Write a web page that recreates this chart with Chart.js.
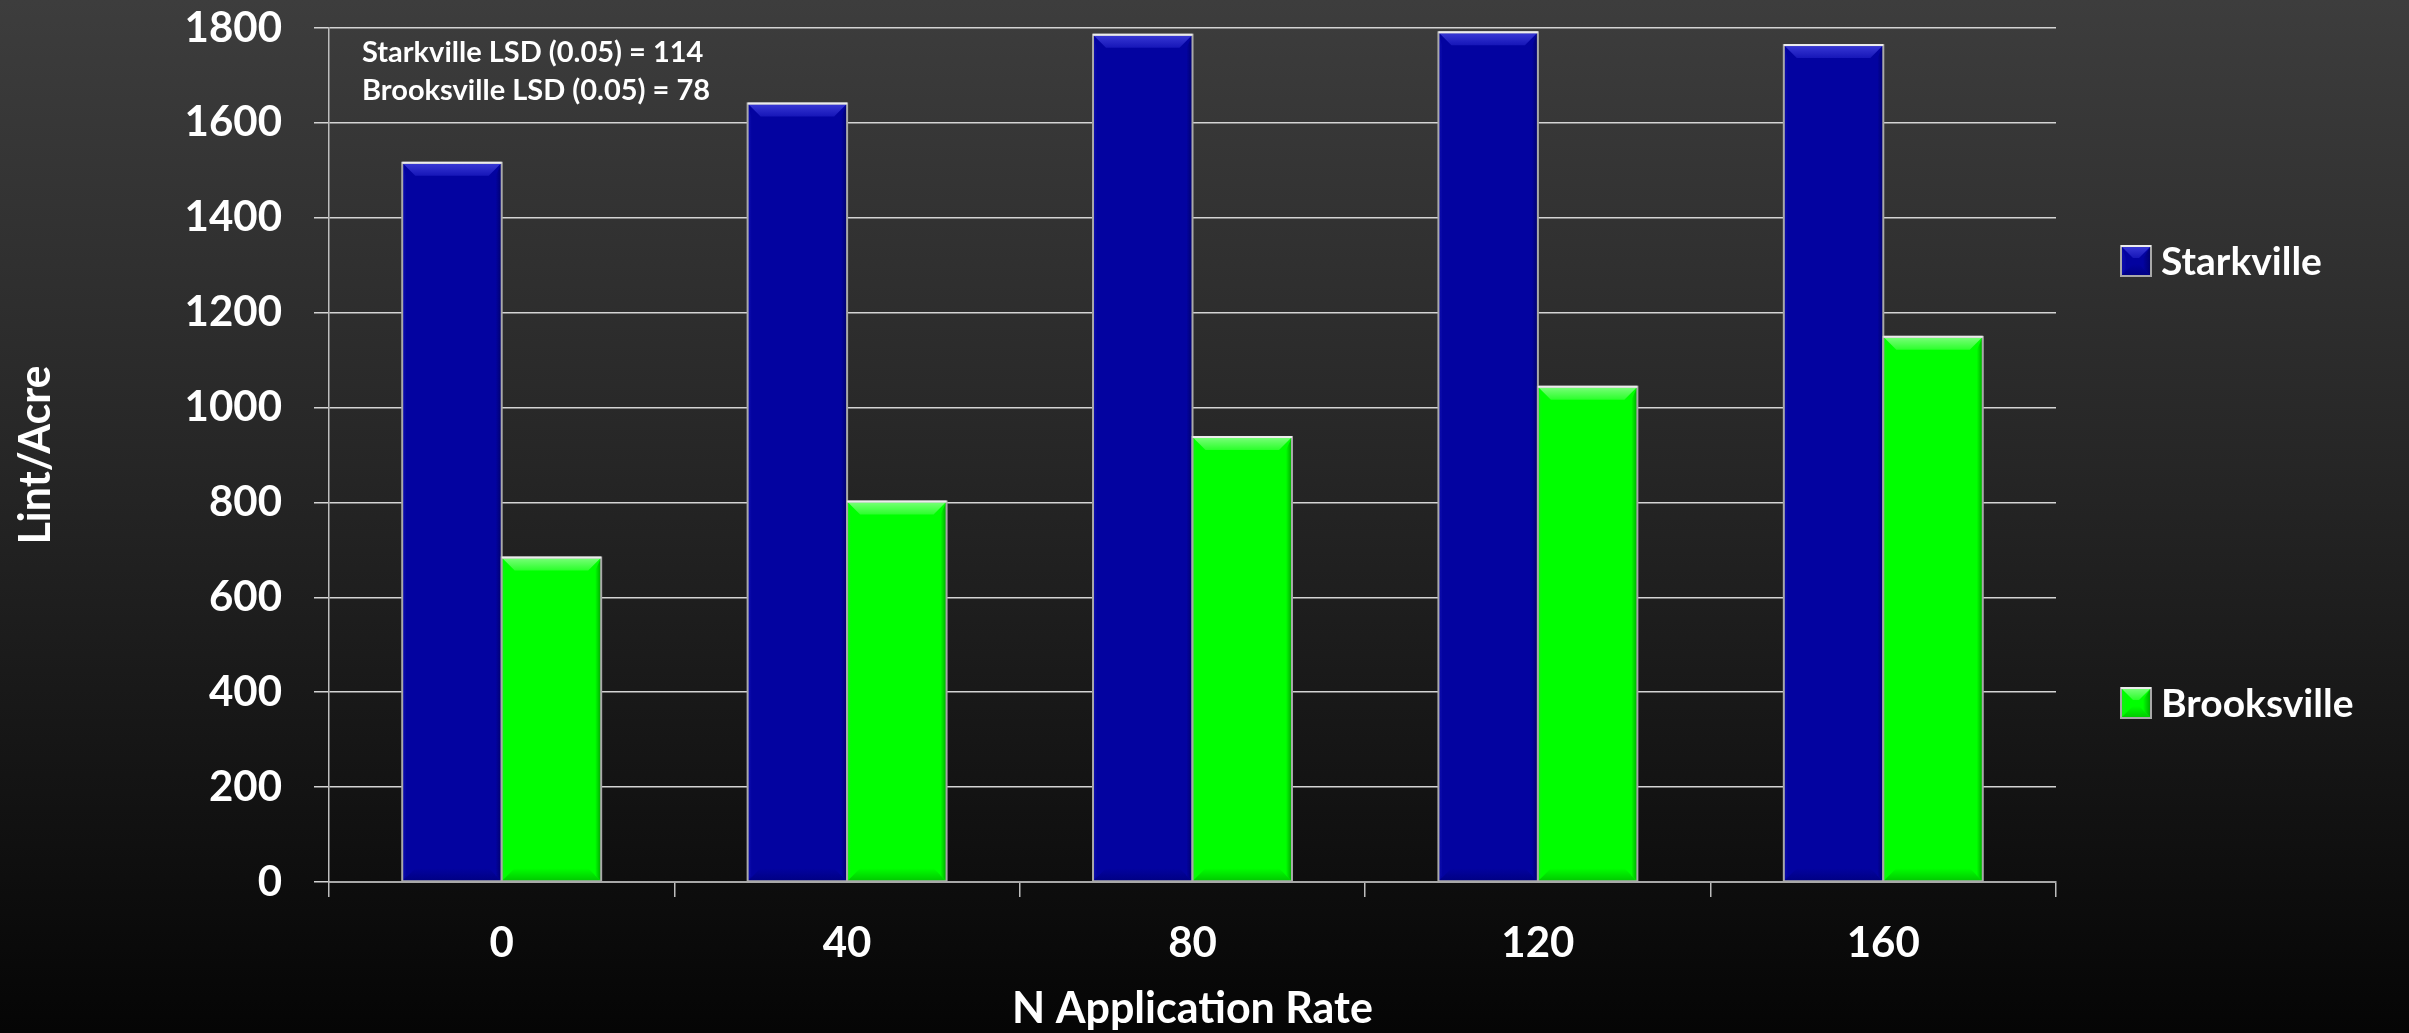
<!DOCTYPE html>
<html>
<head>
<meta charset="utf-8">
<title>Lint/Acre by N Application Rate</title>
<script src="https://cdn.jsdelivr.net/npm/chart.js@4.4.1/dist/chart.umd.min.js"></script>
<style>
  html, body { margin: 0; padding: 0; overflow: hidden; }
  body {
    width: 2409px; height: 1033px;
    background: linear-gradient(to bottom, #3d3d3d 0%, #262626 45%, #141414 75%, #050505 100%);
  }
  canvas { display: block; }
</style>
</head>
<body>
<canvas id="chart" width="2409" height="1033"></canvas>
<script>
// N application rates (x categories)
const categories = ['0', '40', '80', '120', '160'];
// Lint yield per acre at each site
const starkville = [1516, 1641, 1786, 1791, 1764];
const brooksville = [684, 802, 938, 1044, 1149];
// Series names
const seriesNames = ['Starkville', 'Brooksville'];
// Notes printed in the plot corner
const lsdNotes = ['Starkville LSD (0.05) = 114', 'Brooksville LSD (0.05) = 78'];
// Value axis
const yMin = 0, yMax = 1800, yStep = 200;

const FONT = 'Lato, "Open Sans", sans-serif';

// Bevel palettes for the two series
const palettes = [
  { main: '#0303a0', light: '#3a3ad6', lightEnd: '#1616b8', dark: '#00006a', bottom: '#000082', left: '#0c0cac' },
  { main: '#00ff00', light: '#7cff7c', lightEnd: '#2bff2b', dark: '#00a400', bottom: '#00c800', left: '#12f012' }
];

function drawBevel(ctx, l, t, r, b, pal, e, side) {
  ctx.save();
  ctx.fillStyle = pal.main;
  ctx.fillRect(l, t, r - l, b - t);
  const eh = Math.min(e, (b - t) / 2);
  // top face
  let g = ctx.createLinearGradient(0, t, 0, t + eh);
  g.addColorStop(0, pal.light);
  g.addColorStop(1, pal.lightEnd);
  ctx.fillStyle = g;
  ctx.beginPath();
  ctx.moveTo(l, t); ctx.lineTo(r, t); ctx.lineTo(r - eh, t + eh); ctx.lineTo(l + eh, t + eh); ctx.closePath();
  ctx.fill();
  // bottom face
  g = ctx.createLinearGradient(0, b - eh, 0, b);
  g.addColorStop(0, pal.main);
  g.addColorStop(1, pal.bottom);
  ctx.fillStyle = g;
  ctx.beginPath();
  ctx.moveTo(l, b); ctx.lineTo(r, b); ctx.lineTo(r - eh, b - eh); ctx.lineTo(l + eh, b - eh); ctx.closePath();
  ctx.fill();
  // right face
  g = ctx.createLinearGradient(r - side, 0, r, 0);
  g.addColorStop(0, pal.main);
  g.addColorStop(1, pal.dark);
  ctx.fillStyle = g;
  ctx.beginPath();
  ctx.moveTo(r, t); ctx.lineTo(r, b); ctx.lineTo(r - side, b - Math.min(side, eh)); ctx.lineTo(r - side, t + eh); ctx.closePath();
  ctx.fill();
  // left face
  g = ctx.createLinearGradient(l, 0, l + side, 0);
  g.addColorStop(0, pal.left);
  g.addColorStop(1, pal.main);
  ctx.fillStyle = g;
  ctx.beginPath();
  ctx.moveTo(l, t); ctx.lineTo(l + side * 0.6, t + eh); ctx.lineTo(l + side * 0.6, b - Math.min(side, eh)); ctx.lineTo(l, b); ctx.closePath();
  ctx.fill();
  // outline
  ctx.lineWidth = 2;
  ctx.strokeStyle = '#a9a9a9';
  ctx.strokeRect(l, t, r - l, b - t);
  ctx.strokeStyle = '#ececec';
  ctx.beginPath(); ctx.moveTo(l, t); ctx.lineTo(r, t); ctx.stroke();
  ctx.restore();
}

// Bevelled bars, drawn over each bar element's own geometry
const bevelBars = {
  id: 'bevelBars',
  afterDatasetsDraw(chart) {
    const ctx = chart.ctx;
    chart.data.datasets.forEach((ds, di) => {
      const meta = chart.getDatasetMeta(di);
      if (meta.hidden) return;
      meta.data.forEach(bar => {
        const p = bar.getProps(['x', 'y', 'base', 'width'], true);
        const l = p.x - p.width / 2, r = p.x + p.width / 2;
        const t = Math.min(p.y, p.base), b = Math.max(p.y, p.base);
        drawBevel(ctx, l, t, r, b, palettes[di], 13, 6);
      });
    });
  }
};

// Right-hand legend and the LSD notes
const sideText = {
  id: 'sideText',
  afterDraw(chart) {
    const ctx = chart.ctx;
    const area = chart.chartArea;
    ctx.save();
    // LSD notes
    ctx.fillStyle = '#ffffff';
    ctx.font = 'bold 29px ' + FONT;
    ctx.textAlign = 'left';
    ctx.textBaseline = 'alphabetic';
    lsdNotes.forEach((s, i) => ctx.fillText(s, area.left + 33, 62 + i * 38));
    // legend
    const lx = area.right + 65;
    const rows = [261, 703];
    ctx.font = 'bold 39px ' + FONT;
    ctx.textBaseline = 'middle';
    chart.data.datasets.forEach((ds, i) => {
      const cy = rows[i];
      drawBevel(ctx, lx, cy - 15, lx + 30, cy + 15, palettes[i], 12, 8);
      ctx.fillStyle = '#ffffff';
      ctx.fillText(ds.label, lx + 40, cy + 1);
    });
    ctx.restore();
  }
};

function build() {
  new Chart(document.getElementById('chart'), {
    type: 'bar',
    data: {
      labels: categories,
      datasets: [
        { label: seriesNames[0], data: starkville, backgroundColor: palettes[0].main, borderWidth: 0 },
        { label: seriesNames[1], data: brooksville, backgroundColor: palettes[1].main, borderWidth: 0 }
      ]
    },
    options: {
      responsive: false,
      devicePixelRatio: 1,
      animation: false,
      layout: { padding: { left: 0, right: 353, top: 0, bottom: 0 } },
      datasets: { bar: { categoryPercentage: 0.576, barPercentage: 1.0 } },
      plugins: {
        legend: { display: false },
        tooltip: { enabled: false }
      },
      scales: {
        x: {
          offset: true,
          grid: {
            offset: true,
            drawOnChartArea: false,
            drawTicks: true,
            tickLength: 15,
            color: '#bdbdbd',
            lineWidth: 1.5
          },
          border: { display: true, color: '#a8a8a8', width: 2 },
          ticks: {
            color: '#ffffff',
            padding: 21,
            font: { family: FONT, size: 42, weight: 'bold' }
          },
          title: {
            display: true,
            text: 'N Application Rate',
            color: '#ffffff',
            padding: { top: 0, bottom: -2 },
            font: { family: FONT, size: 43, weight: 'bold' }
          },
          afterFit(scale) { scale.height = 151; }
        },
        y: {
          min: yMin,
          max: yMax,
          grid: {
            drawTicks: true,
            tickLength: 15,
            color: '#d4d4d4',
            lineWidth: 1.5
          },
          border: { display: true, color: '#bdbdbd', width: 1.5 },
          ticks: {
            stepSize: yStep,
            color: '#ffffff',
            padding: 32,
            font: { family: FONT, size: 42, weight: 'bold' },
            callback: (v) => String(v)
          },
          title: {
            display: true,
            text: 'Lint/Acre',
            color: '#ffffff',
            padding: { top: 10, bottom: 0 },
            font: { family: FONT, size: 43, weight: 'bold' }
          },
          afterFit(scale) {
            scale.width = 329;
            scale.paddingTop = 28;
            scale.paddingBottom = 0;
          }
        }
      }
    },
    plugins: [bevelBars, sideText]
  });
}

const loads = document.fonts && document.fonts.load
  ? Promise.all([document.fonts.load('bold 42px Lato'), document.fonts.load('bold 29px Lato')])
  : Promise.resolve();
loads.then(build, build);
</script>
</body>
</html>
